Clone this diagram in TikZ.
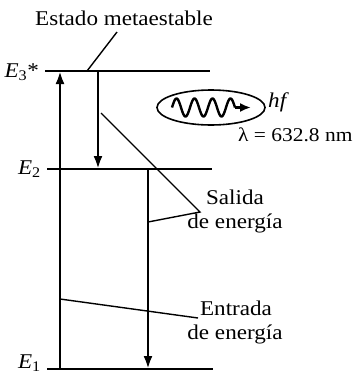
\documentclass[tikz,border=0pt]{standalone}
\usepackage{fontspec}
\setmainfont[FakeStretch=1.1]{Liberation Serif}
\usetikzlibrary{arrows.meta,shapes.geometric}
\begin{document}
\begin{tikzpicture}[x=1pt,y=-1pt,
  level/.style={line width=2pt},
  trans/.style={line width=2.6pt,-{Latex[length=13pt,width=9pt]}},
  ptr/.style={line width=1.4pt},
  lbl/.style={inner sep=0pt,font=\fontsize{21}{24}\selectfont}]
\useasboundingbox (0,0) rectangle (359,378);
% energy levels
\coordinate (e3l) at (45,71);  \coordinate (e3r) at (210,71);
\coordinate (e2l) at (47,169); \coordinate (e2r) at (212,169);
\coordinate (e1l) at (47,369); \coordinate (e1r) at (213,369);
\draw[level] (e3l) -- (e3r);
\draw[level] (e2l) -- (e2r);
\draw[level] (e1l) -- (e1r);
\node[lbl,anchor=base east] (E3) at (39,77) {\textit{E}\textsubscript{3}*};
\node[lbl,anchor=base east] (E2) at (41,174) {\textit{E}\textsubscript{2}};
\node[lbl,anchor=base east] (E1) at (41,368) {\textit{E}\textsubscript{1}};
% transitions
\coordinate (a0) at (60,369); \coordinate (a1) at (60,71);
\coordinate (b0) at (98,71);  \coordinate (b1) at (98,169);
\coordinate (c0) at (148,169); \coordinate (c1) at (148,369);
\draw[trans] (a0) -- (a1);
\draw[trans] (b0) -- (b1);
\draw[trans] (c0) -- (c1);
% labels
\node[lbl,anchor=base west] (meta) at (35,25) {Estado metaestable};
\coordinate (m1) at (117,32); \coordinate (m2) at (87,71);
\draw[ptr] (m1) -- (m2);
\node[lbl,anchor=base] (sal1) at (235,204) {Salida};
\node[lbl,anchor=base] (sal2) at (235,228) {de energía};
\coordinate (s0) at (101,113); \coordinate (s1) at (200,212); \coordinate (s2) at (148,222);
\draw[ptr] (s0) -- (s1) -- (s2);
\node[lbl,anchor=base] (ent1) at (236,315) {Entrada};
\node[lbl,anchor=base] (ent2) at (235,339) {de energía};
\coordinate (n0) at (60,299); \coordinate (n1) at (198,318);
\draw[ptr] (n0) -- (n1);
% photon
\node[draw,ellipse,line width=1.6pt,minimum width=108pt,minimum height=35pt,inner sep=0pt] (photon) at (211,107.5) {};
\coordinate (w1) at (235,107.5); \coordinate (w2) at (251,107.5);
\draw[line width=2.4pt,line join=round] plot[domain=0:63,samples=90,smooth] ({172+\x},{107.5-9*sin(\x*20)}) -- (w1);
\draw[line width=2.4pt,-{Latex[length=11pt,width=9pt]}] (w1) -- (w2);
\node[lbl,anchor=base west] (hf) at (268,107) {\textit{hf}};
\node[inner sep=0pt,anchor=base west,font=\fontsize{19.5}{24}\selectfont] (lam) at (238,141) {λ = 632.8 nm};
\end{tikzpicture}
\end{document}
